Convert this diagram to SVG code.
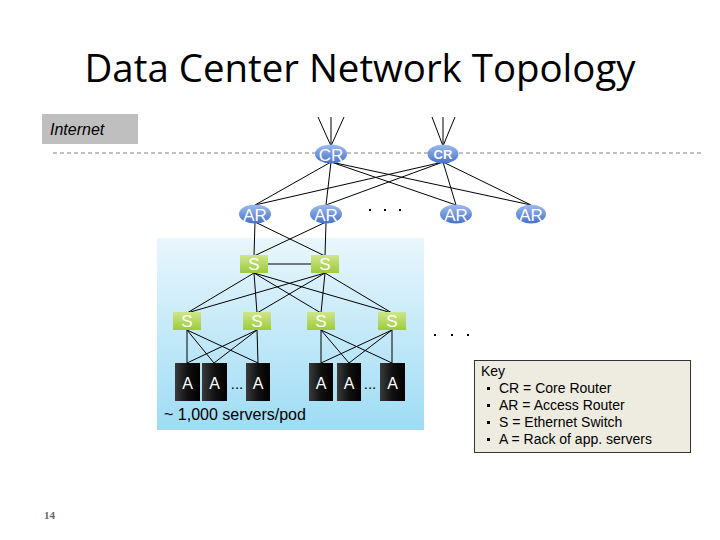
<svg xmlns="http://www.w3.org/2000/svg" width="720" height="540" viewBox="0 0 720 540">
<defs>
<linearGradient id="pod" x1="0" y1="0" x2="0" y2="1"><stop offset="0" stop-color="#e9f6fc"/><stop offset="1" stop-color="#9edcf4"/></linearGradient>
<linearGradient id="blue" x1="0" y1="0" x2="0" y2="1"><stop offset="0" stop-color="#9dbbef"/><stop offset="1" stop-color="#4673c8"/></linearGradient>
<linearGradient id="green" x1="0" y1="0" x2="0" y2="1"><stop offset="0" stop-color="#cfe68a"/><stop offset="1" stop-color="#9ccb3a"/></linearGradient>
<linearGradient id="rack" x1="0" y1="0" x2="1" y2="0"><stop offset="0" stop-color="#3a3a3a"/><stop offset="0.5" stop-color="#111"/><stop offset="1" stop-color="#000"/></linearGradient>
<style>
.ln{stroke:#000;stroke-width:1;fill:none}
.nt{font-family:"Liberation Sans",Arial,sans-serif;fill:#fff;text-anchor:middle}
.s{fill:url(#green)}
.r{fill:url(#blue)}
.a{fill:url(#rack)}
.k{font-family:"Liberation Sans",Arial,sans-serif;font-size:14px;fill:#000}
</style>
</defs>
<rect width="720" height="540" fill="#fff"/>
<text x="360" y="82" font-family="'Open Sans','Noto Sans',sans-serif" font-size="38" text-anchor="middle" textLength="551" lengthAdjust="spacingAndGlyphs" fill="#000">Data Center Network Topology</text>
<g id="internet"><rect x="42" y="114" width="96" height="30" fill="#bfbfbf"/><text x="50" y="135" font-family="'Liberation Sans',Arial,sans-serif" font-size="16" font-style="italic" fill="#000">Internet</text></g>
<line x1="53" y1="153" x2="702" y2="153" stroke="#808080" stroke-width="1" stroke-dasharray="4 3"/>
<rect id="pod-bg" x="157" y="238" width="267" height="192" fill="url(#pod)"/>
<g id="connectors" class="ln">
<path d="M331 146L318 117M331 146L331 117M331 146L344 117M443 146L432 117M443 146L443 117M443 146L455 117"/>
<path d="M331 162L255 205M331 162L326 205M331 162L456 205M331 162L531 205M443 162L255 205M443 162L326 205M443 162L456 205M443 162L531 205"/>
<path d="M255 222L254 256M255 222L325 256M326 222L254 256M326 222L325 256M268 264L311 264"/>
<path d="M254 273L187 313M254 273L257 313M254 273L321 313M254 273L392 313M325 273L187 313M325 273L257 313M325 273L321 313M325 273L392 313"/>
<path d="M187 330L187 363M187 330L214 363M187 330L258 363M257 330L187 363M257 330L214 363M257 330L258 363"/>
<path d="M321 330L321 363M321 330L349 363M321 330L392 363M392 330L321 363M392 330L349 363M392 330L392 363"/>
</g>
<g id="cr1"><ellipse cx="331" cy="154" rx="16" ry="9.5" class="r"/><text x="331" y="160.5" class="nt" font-size="17">CR</text></g>
<g id="cr2"><ellipse cx="443" cy="154" rx="15.5" ry="9.5" class="r"/><text x="443" y="159" class="nt" font-size="13" font-weight="bold">CR</text></g>
<g id="ar1"><ellipse cx="255" cy="214" rx="16" ry="9.5" class="r"/><text x="255" y="220.5" class="nt" font-size="17">AR</text></g>
<g id="ar2"><ellipse cx="326" cy="214" rx="16" ry="9.5" class="r"/><text x="326" y="220.5" class="nt" font-size="17">AR</text></g>
<g id="ar3"><ellipse cx="456" cy="214" rx="16" ry="9.5" class="r"/><text x="456" y="220.5" class="nt" font-size="17">AR</text></g>
<g id="ar4"><ellipse cx="531" cy="214" rx="15" ry="9.5" class="r"/><text x="531" y="220.5" class="nt" font-size="17">AR</text></g>
<g id="dots1" fill="#000"><rect x="369" y="209" width="2" height="2"/><rect x="384" y="209" width="2" height="2"/><rect x="399" y="209" width="2" height="2"/></g>
<g id="s1"><rect x="240" y="255" width="28" height="18" class="s"/><text x="254" y="270" class="nt" font-size="17">S</text></g>
<g id="s2"><rect x="311" y="255" width="28" height="18" class="s"/><text x="325" y="270" class="nt" font-size="17">S</text></g>
<g id="s3"><rect x="173" y="312" width="28" height="18" class="s"/><text x="187" y="327" class="nt" font-size="17">S</text></g>
<g id="s4"><rect x="243" y="312" width="28" height="18" class="s"/><text x="257" y="327" class="nt" font-size="17">S</text></g>
<g id="s5"><rect x="307" y="312" width="28" height="18" class="s"/><text x="321" y="327" class="nt" font-size="17">S</text></g>
<g id="s6"><rect x="378" y="312" width="28" height="18" class="s"/><text x="392" y="327" class="nt" font-size="17">S</text></g>
<g id="dots2" fill="#000"><rect x="434" y="334" width="2" height="2"/><rect x="451" y="334" width="2" height="2"/><rect x="467" y="334" width="2" height="2"/></g>
<g id="a1"><rect x="175" y="363" width="25" height="38" class="a"/><text x="187.5" y="389" class="nt" font-size="16">A</text></g>
<g id="a2"><rect x="202" y="363" width="25" height="38" class="a"/><text x="214.5" y="389" class="nt" font-size="16">A</text></g>
<text x="237" y="389" font-family="'Liberation Sans',Arial,sans-serif" font-size="15" text-anchor="middle" fill="#000">...</text>
<g id="a3"><rect x="246" y="363" width="24" height="38" class="a"/><text x="258" y="389" class="nt" font-size="16">A</text></g>
<g id="a4"><rect x="309" y="363" width="24" height="38" class="a"/><text x="321" y="389" class="nt" font-size="16">A</text></g>
<g id="a5"><rect x="337" y="363" width="24" height="38" class="a"/><text x="349" y="389" class="nt" font-size="16">A</text></g>
<text x="370" y="389" font-family="'Liberation Sans',Arial,sans-serif" font-size="15" text-anchor="middle" fill="#000">...</text>
<g id="a6"><rect x="380" y="363" width="25" height="38" class="a"/><text x="392.5" y="389" class="nt" font-size="16">A</text></g>
<text x="164" y="420" font-family="'Liberation Sans',Arial,sans-serif" font-size="16" fill="#000">~ 1,000 servers/pod</text>
<g id="key">
<rect x="474.5" y="360.5" width="216" height="92" fill="#eeece1" stroke="#333" stroke-width="1"/>
<text x="481" y="376" class="k">Key</text>
<g fill="#000"><rect x="487" y="387" width="3" height="3"/><rect x="487" y="404" width="3" height="3"/><rect x="487" y="421" width="3" height="3"/><rect x="487" y="438" width="3" height="3"/></g>
<text x="499" y="393" class="k">CR = Core Router</text>
<text x="499" y="410" class="k">AR = Access Router</text>
<text x="499" y="427" class="k">S = Ethernet Switch</text>
<text x="499" y="444" class="k">A = Rack of app. servers</text>
</g>
<text x="44" y="519" font-family="'Liberation Serif',serif" font-size="11" font-weight="bold" fill="#666">14</text>
</svg>
